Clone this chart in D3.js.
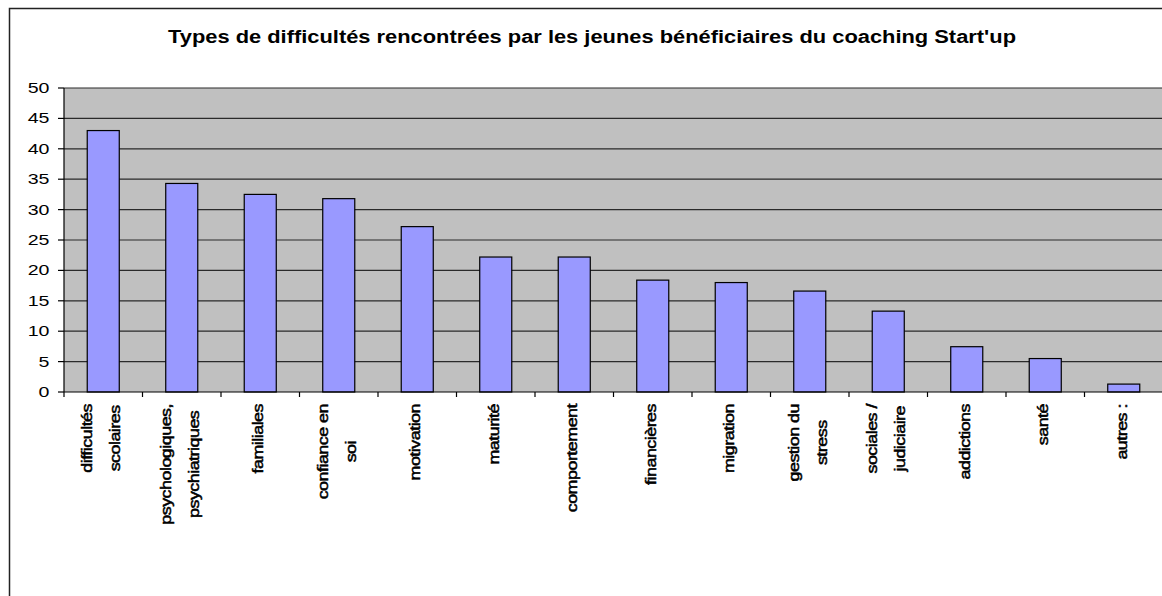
<!DOCTYPE html>
<html>
<head>
<meta charset="utf-8">
<script src="https://cdn.jsdelivr.net/npm/d3@7/dist/d3.min.js"></script>
<style>
  body { margin: 0; background: #fff; }
  text { font-family: Arial, "Liberation Sans", sans-serif; }
</style>
</head>
<body>
<script>
var categories = [
    "difficultés\nscolaires",
    "psychologiques,\npsychiatriques",
    "familiales",
    "confiance en\nsoi",
    "motivation",
    "maturité",
    "comportement",
    "financières",
    "migration",
    "gestion du\nstress",
    "sociales /\njudiciaire",
    "addictions",
    "santé",
    "autres :"
];
var values = [43, 34.3, 32.5, 31.8, 27.2, 22.2, 22.2, 18.4, 18.0, 16.6, 13.3, 7.45, 5.5, 1.3];
var yTicks = [0, 5, 10, 15, 20, 25, 30, 35, 40, 45, 50];
var title = "Types de difficultés rencontrées par les jeunes bénéficiaires du coaching Start'up";

var width = 1162, height = 596;
var plotLeft = 64, plotRight = 1163, plotTop = 88, plotBottom = 392;
var barColor = '#9999ff';
var plotColor = '#c0c0c0';

var svg = d3.select("body").append("svg")
    .attr("width", width)
    .attr("height", height);

svg.append("rect")
    .attr("x", 9.5).attr("y", 8.5)
    .attr("width", width + 20).attr("height", height + 20)
    .style("fill", "#fff")
    .style("stroke", "#222")
    .style("stroke-width", 1.5);

svg.append("text")
    .attr("x", 592).attr("y", 42.5)
    .attr("text-anchor", "middle")
    .attr("textLength", 848)
    .attr("lengthAdjust", "spacingAndGlyphs")
    .style("font-size", "18px")
    .style("font-weight", "bold")
    .text(title);

var x = d3.scaleBand()
    .domain(d3.range(categories.length))
    .range([plotLeft, plotRight])
    .paddingInner(0.592)
    .paddingOuter(0.296);

var slot = d3.scaleBand()
    .domain(d3.range(categories.length))
    .range([plotLeft, plotRight]);

var y = d3.scaleLinear()
    .domain([0, 50])
    .range([plotBottom, plotTop]);

svg.append("rect")
    .attr("x", plotLeft).attr("y", plotTop)
    .attr("width", width - plotLeft).attr("height", plotBottom - plotTop)
    .style("fill", plotColor);

svg.selectAll("line.grid")
    .data(yTicks.slice(1))
    .enter().append("line")
    .attr("class", "grid")
    .attr("x1", plotLeft).attr("x2", width)
    .attr("y1", function (d) { return y(d); })
    .attr("y2", function (d) { return y(d); })
    .style("stroke", "#2a2a2a")
    .style("stroke-width", 1.2);

svg.selectAll("rect.bar")
    .data(values)
    .enter().append("rect")
    .attr("class", "bar")
    .attr("x", function (d, i) { return x(i); })
    .attr("width", x.bandwidth())
    .attr("y", function (d) { return y(d); })
    .attr("height", function (d) { return y(0) - y(d); })
    .style("fill", barColor)
    .style("stroke", "#000")
    .style("stroke-width", 1.2);

// y axis
svg.append("line")
    .attr("x1", plotLeft).attr("x2", plotLeft)
    .attr("y1", plotTop).attr("y2", plotBottom)
    .style("stroke", "#000").style("stroke-width", 1.2);

svg.selectAll("line.ytick")
    .data(yTicks)
    .enter().append("line")
    .attr("class", "ytick")
    .attr("x1", plotLeft - 6).attr("x2", plotLeft)
    .attr("y1", function (d) { return y(d); })
    .attr("y2", function (d) { return y(d); })
    .style("stroke", "#000").style("stroke-width", 1.2);

svg.selectAll("text.ylab")
    .data(yTicks)
    .enter().append("text")
    .attr("class", "ylab")
    .attr("transform", function (d) { return "translate(49.5," + y(d) + ") scale(1.4,1)"; })
    .attr("text-anchor", "end")
    .attr("dy", "0.36em")
    .style("font-size", "14px")
    .text(function (d) { return d; });

// x axis
svg.append("line")
    .attr("x1", plotLeft).attr("x2", width)
    .attr("y1", plotBottom).attr("y2", plotBottom)
    .style("stroke", "#000").style("stroke-width", 1.2);

svg.selectAll("line.xtick")
    .data(d3.range(categories.length + 1))
    .enter().append("line")
    .attr("class", "xtick")
    .attr("x1", function (d) { return plotLeft + d * slot.step(); })
    .attr("x2", function (d) { return plotLeft + d * slot.step(); })
    .attr("y1", plotBottom).attr("y2", plotBottom + 5)
    .style("stroke", "#000").style("stroke-width", 1.2);

var stretch = 1.28;
var lineGap = 28;

var labels = svg.selectAll("g.xlab")
    .data(categories)
    .enter().append("g")
    .attr("class", "xlab")
    .attr("transform", function (d, i) {
        return "translate(" + (slot(i) + slot.bandwidth() / 2) + ",404) rotate(-90) scale(" + stretch + ",1)";
    });

labels.each(function (d) {
    var lines = d.split("\n");
    var g = d3.select(this);
    var texts = g.selectAll("text")
        .data(lines)
        .enter().append("text")
        .attr("text-anchor", "end")
        .attr("x", 0)
        .attr("y", function (l, j) { return (j - (lines.length - 1) / 2) * lineGap + 3; })
        .style("font-size", "14px")
        .style("letter-spacing", "-0.4px")
        .style("stroke", "#000")
        .style("stroke-width", 0.5)
        .text(function (l) { return l; });
    var lens = [];
    texts.each(function () { lens.push(this.getComputedTextLength()); });
    var maxLen = d3.max(lens);
    texts.attr("x", function (l, j) { return -(maxLen - lens[j]) / 2; });
});
</script>
</body>
</html>
